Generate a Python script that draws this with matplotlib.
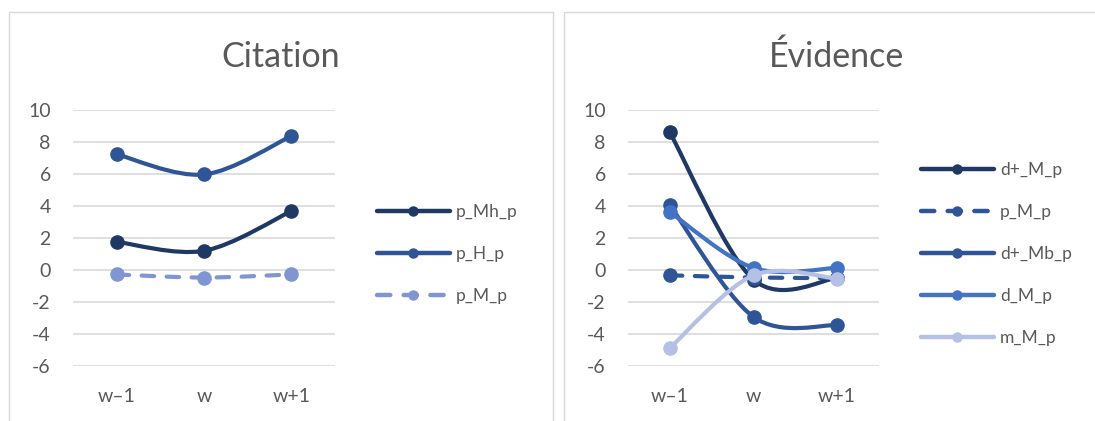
import numpy as np
import matplotlib
matplotlib.use('Agg')
import matplotlib.pyplot as plt
from matplotlib.path import Path
from matplotlib.patches import PathPatch, Rectangle
from matplotlib.lines import Line2D

plt.rcParams['font.family'] = ['Lato', 'DejaVu Sans']
plt.rcParams['axes.unicode_minus'] = False

categories = ['w\u20131', 'w', 'w+1']

# Citation panel
cit_names = ['p_Mh_p', 'p_H_p', 'p_M_p']
p_Mh_p = [1.76, 1.2, 3.68]
p_H_p = [7.23, 5.97, 8.37]
p_M_p_cit = [-0.28, -0.47, -0.28]

# Évidence panel
evi_names = ['d+_M_p', 'p_M_p', 'd+_Mb_p', 'd_M_p', 'm_M_p']
d_plus_M_p = [8.6, -0.6, -0.5]
p_M_p_evi = [-0.33, -0.47, -0.5]
d_plus_Mb_p = [4.05, -2.93, -3.45]
d_M_p = [3.62, 0.13, 0.13]
m_M_p = [-4.87, -0.33, -0.54]

yticks = [10, 8, 6, 4, 2, 0, -2, -4, -6]

W, H = 1095, 421
TXT = '#595959'
GRID = '#D9D9D9'
DASH = (0, (3.0, 3.0))


def smooth_path(xs, ys):
    # Excel-like smoothed line: cubic bezier through the points (catmull-rom control points)
    pts = np.column_stack([xs, ys]).astype(float)
    n = len(pts)
    verts = [pts[0]]
    codes = [Path.MOVETO]
    for i in range(n - 1):
        p0 = pts[i - 1] if i > 0 else pts[i]
        p1 = pts[i]
        p2 = pts[i + 1]
        p3 = pts[i + 2] if i + 2 < n else pts[i + 1]
        verts += [p1 + (p2 - p0) / 6, p2 - (p3 - p1) / 6, p2]
        codes += [Path.CURVE4] * 3
    return Path(verts, codes)


def fx(px):
    return px / W


def fy(py):
    return 1 - py / H


fig = plt.figure(figsize=(W / 100, H / 100), dpi=100)

# chart frames
fig.patches.append(Rectangle((fx(9), fy(430)), fx(553 - 9), (430 - 12) / H, transform=fig.transFigure,
                             fill=False, edgecolor=GRID, lw=1))
fig.patches.append(Rectangle((fx(564), fy(430)), fx(600), (430 - 12) / H, transform=fig.transFigure,
                             fill=False, edgecolor=GRID, lw=1))


def panel(x0, x1, title, title_x, names, series, colors, styles, leg_x):
    ax = fig.add_axes([fx(x0), fy(366), fx(x1 - x0), (366 - 110) / H])
    ax.set_xlim(0, 3)
    ax.set_ylim(-6, 10)
    ax.set_yticks(yticks)
    ax.set_xticks([0.5, 1.5, 2.5])
    ax.set_xticklabels(categories)
    for s in ax.spines.values():
        s.set_visible(False)
    ax.tick_params(length=0, labelsize=14, labelcolor=TXT)
    ax.tick_params(axis='y', pad=16)
    ax.tick_params(axis='x', pad=16)
    for t in yticks:
        ax.axhline(t, color=GRID, lw=1.2, zorder=0)
    xs = np.array([0.5, 1.5, 2.5])
    handles = []
    for k, (name, vals, c, ls) in enumerate(zip(names, series, colors, styles)):
        patch = PathPatch(smooth_path(xs, vals), facecolor='none', edgecolor=c, lw=3.0,
                          linestyle=ls, capstyle='round', joinstyle='round', zorder=2 + k, clip_on=False)
        ax.add_patch(patch)
        ax.plot(xs, vals, 'o', color=c, ms=9.5, clip_on=False, zorder=2 + k)
        handles.append(Line2D([], [], color=c, lw=3.2, linestyle=ls, marker='o', ms=6.5,
                              solid_capstyle='round', dash_capstyle='round'))
    fig.text(fx(title_x), fy(57), title, ha='center', va='center', fontsize=24.5, color=TXT)
    fig.legend(handles, names, loc='center left', bbox_to_anchor=(fx(leg_x), fy(254)),
               bbox_transform=fig.transFigure, frameon=False, fontsize=12.5, labelcolor=TXT,
               handlelength=4.2, handletextpad=0.35, labelspacing=1.5, borderpad=0, borderaxespad=0)
    return ax


panel(73, 335, 'Citation', 281, cit_names, [p_Mh_p, p_H_p, p_M_p_cit],
      ['#203864', '#2F5597', '#7F96D2'], ['-', '-', DASH], 377)
panel(628, 879, '\u00c9vidence', 836, evi_names, [d_plus_M_p, p_M_p_evi, d_plus_Mb_p, d_M_p, m_M_p],
      ['#203864', '#2F5597', '#2F5597', '#4472C4', '#B4C0E4'], ['-', DASH, '-', '-', '-'], 921)

fig.savefig('out.png', dpi=100)
